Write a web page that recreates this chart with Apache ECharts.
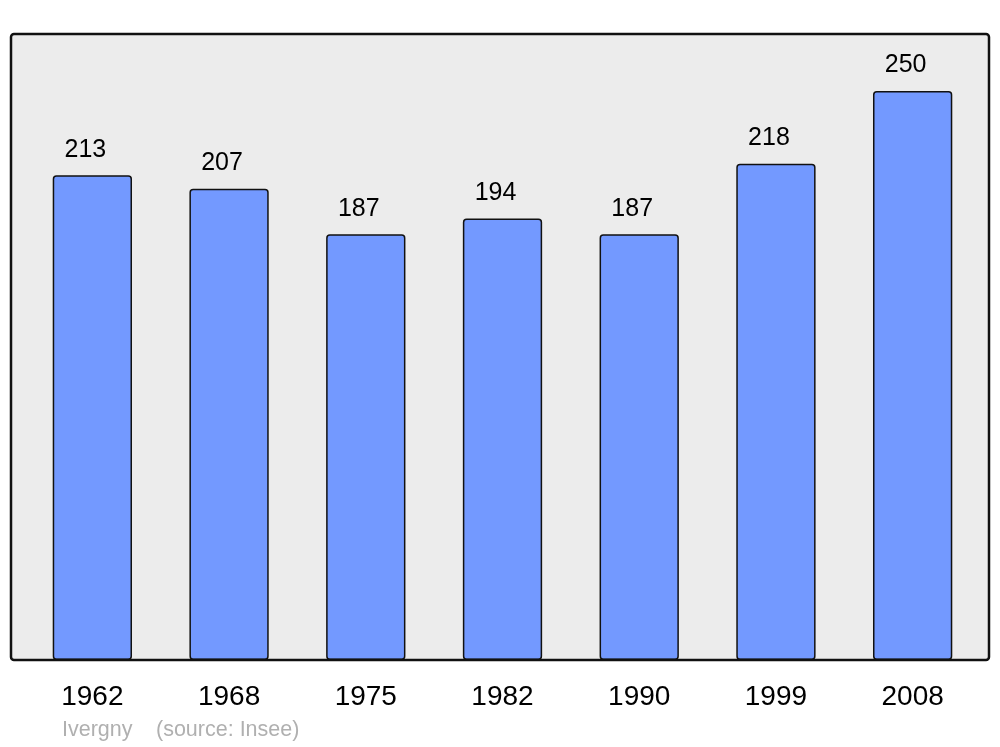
<!DOCTYPE html>
<html>
<head>
<meta charset="utf-8">
<script src="https://cdn.jsdelivr.net/npm/echarts@6/dist/echarts.min.js"></script>
<style>
  html, body { margin: 0; padding: 0; background: #fff; }
  #popChart { width: 1000px; height: 747px; }
</style>
</head>
<body>
<div id="popChart"></div>
<script>
var years = ['1962', '1968', '1975', '1982', '1990', '1999', '2008'];
var population = [213, 207, 187, 194, 187, 218, 250];
var placeName = 'Ivergny';
var sourceText = '(source: Insee)';

var chart = echarts.init(document.getElementById('popChart'));
chart.setOption({
  animation: false,
  grid: { left: 24, right: 19, top: 34, bottom: 87 },
  graphic: [
    // cadre gris derrière les barres
    { type: 'rect', z: -10, shape: { x: 11, y: 34, width: 978, height: 626, r: 3 },
      style: { fill: '#ececec', stroke: null } },
    { type: 'rect', z: 100, shape: { x: 11, y: 34, width: 978, height: 626, r: 3 },
      style: { fill: null, stroke: '#111', lineWidth: 2.5 } },
    { type: 'text', left: 62, top: 719,
      style: { text: placeName, fill: '#b0b0b0', font: '21.5px "Liberation Sans", Arial, sans-serif' } },
    { type: 'text', left: 156, top: 719,
      style: { text: sourceText, fill: '#b0b0b0', font: '21.5px "Liberation Sans", Arial, sans-serif' } }
  ],
  xAxis: {
    type: 'category',
    data: years,
    axisLine: { show: false },
    axisTick: { show: false },
    axisLabel: { color: '#000', fontSize: 28, fontFamily: 'Liberation Sans', margin: 23 }
  },
  yAxis: {
    type: 'value',
    min: 0,
    max: 275,
    show: false,
    splitLine: { show: false }
  },
  series: [{
    type: 'bar',
    data: population,
    barWidth: '58%',
    itemStyle: { color: '#7399ff', borderColor: '#111', borderWidth: 1.5, borderRadius: 3 },
    label: {
      show: true,
      position: 'top',
      distance: 13,
      offset: [-7, 0],
      color: '#000',
      fontSize: 25,
      fontFamily: 'Liberation Sans'
    }
  }]
});
</script>
</body>
</html>
